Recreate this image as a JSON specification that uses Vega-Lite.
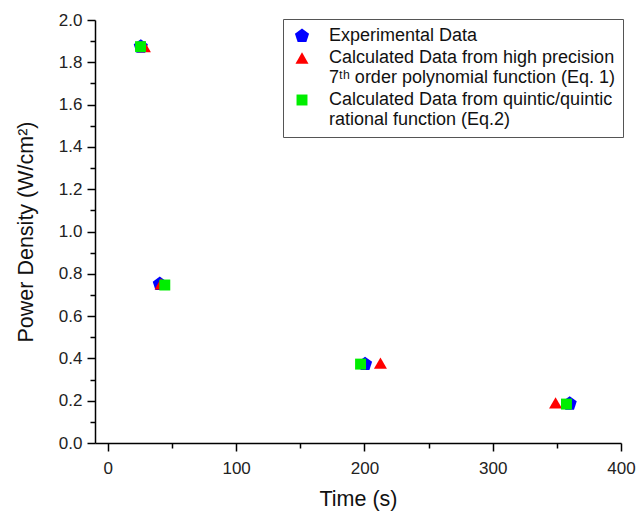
{
  "$schema": "https://vega.github.io/schema/vega-lite/v6.json",
  "width": 526,
  "height": 423,
  "autosize": "none",
  "padding": {"left": 95, "top": 20, "right": 16, "bottom": 68},
  "background": "white",
  "data": {
    "values": [
      {"series": "Exp", "time": 25.7, "power": 1.874},
      {"series": "Exp", "time": 40.5, "power": 0.752},
      {"series": "Exp", "time": 200.5, "power": 0.373},
      {"series": "Exp", "time": 360, "power": 0.186},
      {"series": "Eq1", "time": 28.5, "power": 1.874},
      {"series": "Eq1", "time": 41.5, "power": 0.752},
      {"series": "Eq1", "time": 212.5, "power": 0.378},
      {"series": "Eq1", "time": 349, "power": 0.19},
      {"series": "Eq2", "time": 25.5, "power": 1.874},
      {"series": "Eq2", "time": 44.4, "power": 0.747},
      {"series": "Eq2", "time": 197, "power": 0.373},
      {"series": "Eq2", "time": 357.5, "power": 0.184}
    ]
  },
  "mark": {"type": "point", "filled": true, "opacity": 1, "strokeWidth": 0},
  "encoding": {
    "x": {
      "field": "time", "type": "quantitative",
      "scale": {"domain": [-10, 400], "nice": false, "zero": false},
      "axis": {
        "values": [0, 50, 100, 150, 200, 250, 300, 350, 400],
        "labelExpr": "datum.value % 100 == 0 ? datum.label : ''",
        "tickSize": {"condition": {"test": "datum.value % 100 != 0", "value": 5}, "value": 8},
        "title": "Time (s)", "format": "d", "labelPadding": 9, "titlePadding": 12
      }
    },
    "y": {
      "field": "power", "type": "quantitative",
      "scale": {"domain": [0, 2], "nice": false, "zero": false},
      "axis": {
        "values": [0, 0.1, 0.2, 0.3, 0.4, 0.5, 0.6, 0.7, 0.8, 0.9, 1, 1.1, 1.2, 1.3, 1.4, 1.5, 1.6, 1.7, 1.8, 1.9, 2],
        "labelExpr": "round(datum.value * 10) % 2 == 0 ? datum.label : ''",
        "tickSize": {"condition": {"test": "round(datum.value * 10) % 2 == 1", "value": 5}, "value": 8},
        "format": ".1f", "title": "Power Density (W/cm²)", "labelPadding": 5, "titlePadding": 21
      }
    },
    "color": {
      "field": "series", "type": "nominal",
      "scale": {"domain": ["Exp", "Eq1", "Eq2"], "range": ["#0000ff", "#ff0000", "#00ee00"]},
      "legend": {
        "title": null,
        "orient": "none",
        "legendX": 188,
        "legendY": -1,
        "labelExpr": "datum.label == 'Exp' ? 'Experimental Data' : datum.label == 'Eq1' ? ['Calculated Data from high precision', '7ᵗʰ order polynomial function (Eq. 1)'] : ['Calculated Data from quintic/quintic', 'rational function (Eq.2)']"
      }
    },
    "shape": {
      "field": "series", "type": "nominal",
      "scale": {"domain": ["Exp", "Eq1", "Eq2"], "range": ["M0,-1L0.951,-0.309L0.588,0.809L-0.588,0.809L-0.951,-0.309Z", "triangle-up", "square"]}
    },
    "size": {
      "field": "series", "type": "nominal",
      "scale": {"domain": ["Exp", "Eq1", "Eq2"], "range": [220, 120, 110]}
    }
  },
  "config": {
    "view": {"stroke": null},
    "font": "Liberation Sans",
    "axis": {
      "grid": false,
      "labelFlush": false,
      "labelOverlap": false,
      "domainColor": "#000",
      "domainWidth": 1.5,
      "tickColor": "#000",
      "tickWidth": 1.5,
      "labelFont": "Liberation Sans",
      "labelFontSize": 17,
      "labelColor": "#222",
      "titleFont": "Liberation Sans",
      "titleFontSize": 21.5,
      "titleFontWeight": "normal",
      "titleColor": "#111"
    },
    "legend": {
      "strokeColor": "#555",
      "padding": 8,
      "symbolOffset": 2,
      "labelFont": "Liberation Sans",
      "labelFontSize": 18,
      "labelColor": "#111",
      "labelLimit": 400,
      "labelOffset": 18,
      "rowPadding": 4,
      "symbolStrokeWidth": 0
    }
  }
}
